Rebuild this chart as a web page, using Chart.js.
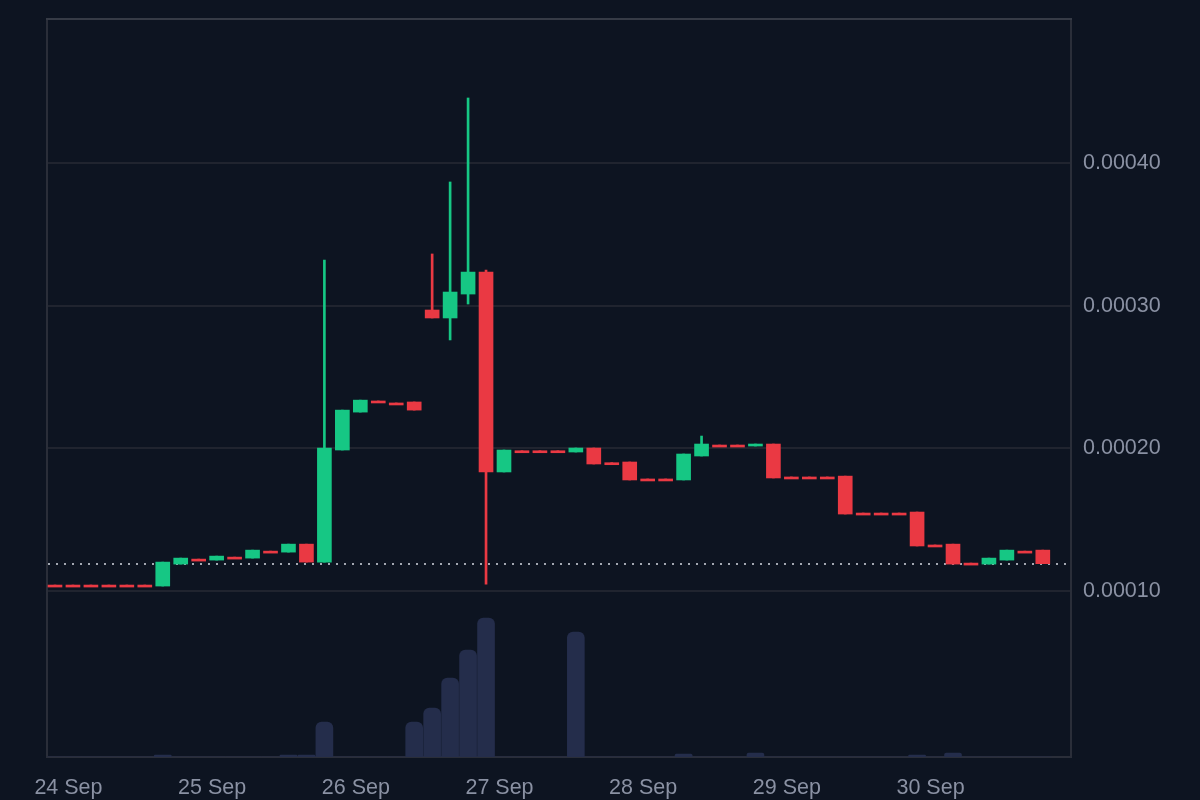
<!DOCTYPE html>
<html>
<head>
<meta charset="utf-8">
<script src="https://cdn.jsdelivr.net/npm/chart.js@4.4.1/dist/chart.umd.min.js"></script>
<style>
html,body{margin:0;padding:0;background:#0d1421;}
canvas{display:block;}
</style>
</head>
<body>
<canvas id="c" width="1200" height="800"></canvas>
<script>
// ---- data (prices in units of 1e-4) ----
const dayLabels = ['24 Sep','25 Sep','26 Sep','27 Sep','28 Sep','29 Sep','30 Sep'];
const candlesPerDay = 8;          // 3-hour candles
const firstDayOffset = 0.75;      // position of "24 Sep" midnight in candle units
const priceTicks = [0.0001, 0.0002, 0.0003, 0.0004];
const SCALE = 1e-4;

const open  = [1.040,1.040,1.040,1.040,1.040,1.040,1.033,1.187,1.222,1.215,1.236,1.229,1.278,1.271,1.327,1.201,
               1.987,2.253,2.331,2.317,2.324,2.969,2.913,3.081,3.235,1.833,1.982,1.982,1.982,1.973,2.001,1.898,
               1.903,1.784,1.784,1.777,1.945,2.022,2.022,2.015,2.029,1.798,1.798,1.798,1.804,1.545,1.545,1.545,
               1.552,1.321,1.327,1.194,1.187,1.215,1.278,1.285];
const high  = [1.040,1.040,1.040,1.040,1.040,1.040,1.201,1.229,1.222,1.243,1.236,1.285,1.278,1.327,1.327,3.319,
               2.267,2.337,2.331,2.317,2.324,3.362,3.867,4.456,3.249,1.987,1.982,1.982,1.982,2.001,2.001,1.898,
               1.903,1.784,1.784,1.959,2.085,2.022,2.022,2.029,2.029,1.798,1.798,1.798,1.804,1.545,1.545,1.545,
               1.552,1.321,1.327,1.194,1.229,1.285,1.278,1.285];
const low   = [1.040,1.040,1.040,1.040,1.040,1.040,1.033,1.187,1.222,1.215,1.236,1.229,1.278,1.271,1.201,1.201,
               1.987,2.253,2.331,2.317,2.267,2.913,2.759,3.011,1.047,1.833,1.982,1.982,1.982,1.973,1.889,1.898,
               1.777,1.784,1.784,1.777,1.945,2.022,2.022,2.015,1.791,1.798,1.798,1.798,1.538,1.545,1.545,1.545,
               1.314,1.321,1.187,1.194,1.187,1.215,1.278,1.190];
const close = [1.040,1.040,1.040,1.040,1.040,1.040,1.201,1.229,1.222,1.243,1.236,1.285,1.278,1.327,1.201,2.001,
               2.267,2.337,2.331,2.317,2.267,2.913,3.095,3.235,1.833,1.987,1.982,1.982,1.982,2.001,1.889,1.898,
               1.777,1.784,1.784,1.959,2.029,2.022,2.022,2.029,1.791,1.798,1.798,1.798,1.538,1.545,1.545,1.545,
               1.314,1.321,1.187,1.194,1.229,1.285,1.278,1.190];
const volume = [0,0,0,0,0,0,2,0,0,0,0,0,0,2,2,35,
                0,0,0,0,35,49,79,107,139,0,0,0,0,125,0,0,
                0,0,0,3,0,0,0,4,0,0,0,0,0,0,0,0,
                2,0,4,0,0,0,0,0];

// ---- styling ----
const UP = '#16c784', DOWN = '#ea3943', VOL = '#242d4b';
const BG = '#0d1421', GRID = '#20242f', FRAME = '#2a2e39', TXT = '#8a91a3';
const FONT = '"Liberation Sans", Arial, Helvetica, sans-serif';

const n = open.length;
const candleColors = open.map((o, i) => close[i] > o ? UP : DOWN);

const framePlugin = {
  id: 'frame',
  beforeDraw(chart) {
    const {ctx, width, height} = chart;
    ctx.save(); ctx.fillStyle = BG; ctx.fillRect(0, 0, width, height); ctx.restore();
  },
  beforeDatasetsDraw(chart) {
    const {ctx, chartArea: a, scales} = chart;
    ctx.save();
    const y = Math.round(scales.y.getPixelForValue(close[n - 1] * SCALE));
    ctx.strokeStyle = '#a3a8b2';
    ctx.lineWidth = 2;
    ctx.setLineDash([2, 6]);
    ctx.beginPath(); ctx.moveTo(a.left + 1, y); ctx.lineTo(a.right - 2, y); ctx.stroke();
    ctx.setLineDash([]);
    ctx.strokeStyle = FRAME; ctx.lineWidth = 2;
    ctx.beginPath();
    ctx.moveTo(a.left, a.top); ctx.lineTo(a.left, a.bottom);
    ctx.lineTo(a.right, a.bottom); ctx.lineTo(a.right, a.top);
    ctx.stroke();
    ctx.strokeStyle = '#363b46';
    ctx.beginPath(); ctx.moveTo(a.left - 1, a.top + 1); ctx.lineTo(a.right + 1, a.top + 1); ctx.stroke();
    ctx.restore();
  }
};

const noPad = s => { s.paddingTop = 0; s.paddingBottom = 0; s.paddingLeft = 0; s.paddingRight = 0; };

new Chart(document.getElementById('c'), {
  type: 'bar',
  data: {
    datasets: [
      {
        label: 'Body',
        data: open.map((o, i) => ({x: i, y: [o * SCALE, close[i] * SCALE]})),
        backgroundColor: candleColors,
        barThickness: 14,
        minBarLength: 2,
        grouped: false,
        yAxisID: 'y'
      },
      {
        label: 'Wick',
        data: low.map((l, i) => ({x: i, y: [l * SCALE, high[i] * SCALE]})),
        backgroundColor: candleColors,
        barThickness: 2,
        grouped: false,
        yAxisID: 'y'
      },
      {
        label: 'Volume',
        data: volume.map((v, i) => ({x: i, y: v})),
        backgroundColor: VOL,
        barThickness: 17,
        borderRadius: 6,
        borderSkipped: 'start',
        grouped: false,
        yAxisID: 'yVol'
      }
    ]
  },
  options: {
    responsive: false,
    devicePixelRatio: 1,
    animation: false,
    layout: {padding: {left: 47, top: 18, right: 0, bottom: 0}},
    plugins: {legend: {display: false}, tooltip: {enabled: false}},
    scales: {
      x: {
        type: 'linear',
        offset: false,
        bounds: 'ticks',
        min: -0.445,
        max: 56.57,
        grid: {display: false, drawTicks: false, offset: false},
        border: {display: false},
        afterBuildTicks: s => { s.ticks = dayLabels.map((_, k) => ({value: firstDayOffset + k * candlesPerDay})); },
        ticks: {
          autoSkip: false, maxRotation: 0, padding: 18, color: TXT,
          font: {family: FONT, size: 21.5},
          callback: (v, i) => dayLabels[i]
        },
        afterFit: s => { s.height = 43; noPad(s); }
      },
      y: {
        position: 'right',
        min: -0.0000166,
        max: 0.0005017,
        grid: {color: GRID, lineWidth: 2, drawTicks: false},
        border: {display: false},
        afterBuildTicks: s => { s.ticks = priceTicks.map(v => ({value: v})); },
        ticks: {
          padding: 12, color: TXT,
          font: {family: FONT, size: 21.5},
          callback: v => Number(v).toFixed(5)
        },
        afterFit: s => { s.width = 129; noPad(s); }
      },
      yVol: {
        display: false,
        min: 0,
        max: 739
      }
    }
  },
  plugins: [framePlugin]
});
</script>
</body>
</html>
